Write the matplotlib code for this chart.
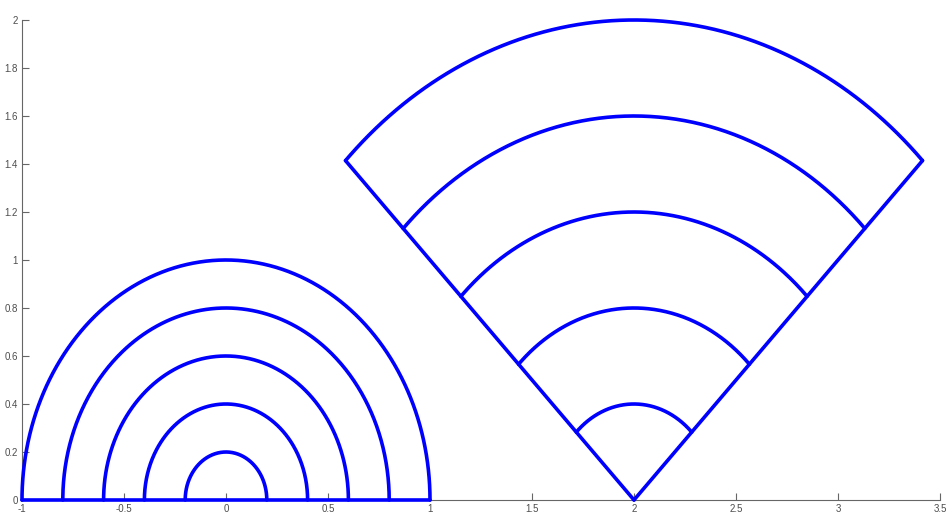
import numpy as np
import matplotlib
matplotlib.use("Agg")
import matplotlib.pyplot as plt

# Data
semi_radii = [0.2, 0.4, 0.6, 0.8, 1.0]
semi_center = (0.0, 0.0)
sector_radii = [0.4, 0.8, 1.2, 1.6, 2.0]
sector_center = (2.0, 0.0)
sector_angles_deg = (45, 135)
xticks = [-1, -0.5, 0, 0.5, 1, 1.5, 2, 2.5, 3, 3.5]
xticklabels = ["-1", "-0.5", "0", "0.5", "1", "1.5", "2", "2.5", "3", "3.5"]
yticks = [0, 0.2, 0.4, 0.6, 0.8, 1, 1.2, 1.4, 1.6, 1.8, 2]
yticklabels = ["0", "0.2", "0.4", "0.6", "0.8", "1", "1.2", "1.4", "1.6", "1.8", "2"]

color = (0, 0, 1)
lw = 2.6

plt.rcParams['font.family'] = ['Liberation Sans', 'DejaVu Sans']
fig = plt.figure(figsize=(9.48, 5.24), dpi=100)
ax = fig.add_axes([22/948, 24/524, 918/948, 480/524])

# semicircles
t = np.linspace(0, np.pi, 400)
cx, cy = semi_center
for r in semi_radii:
    ax.plot(cx + r*np.cos(t), cy + r*np.sin(t), color=color, lw=lw, solid_capstyle='round', zorder=3)
rmax = max(semi_radii)
ax.plot([cx - rmax, cx + rmax], [cy, cy], color=color, lw=lw, solid_capstyle='round', zorder=3)

# sector
a0, a1 = np.deg2rad(sector_angles_deg[0]), np.deg2rad(sector_angles_deg[1])
ts = np.linspace(a0, a1, 300)
sx, sy = sector_center
for r in sector_radii:
    ax.plot(sx + r*np.cos(ts), sy + r*np.sin(ts), color=color, lw=lw, solid_capstyle='round', zorder=3)
R = max(sector_radii)
for a in (a0, a1):
    ax.plot([sx, sx + R*np.cos(a)], [sy, sy + R*np.sin(a)], color=color, lw=lw,
            solid_capstyle='round', solid_joinstyle='round', zorder=3)

ax.set_xlim(-1, 3.5)
ax.set_ylim(0, 2)
ax.set_xticks(xticks)
ax.set_xticklabels(xticklabels)
ax.set_yticks(yticks)
ax.set_yticklabels(yticklabels)
for s in ("top", "right"):
    ax.spines[s].set_visible(False)
gray = (0.4, 0.4, 0.4)
for s in ("left", "bottom"):
    ax.spines[s].set_color(gray)
    ax.spines[s].set_linewidth(0.8)
    ax.spines[s].set_zorder(1)
ax.tick_params(direction='in', length=5, width=0.8, colors=gray, labelsize=7, pad=3)
for l in ax.get_xticklabels() + ax.get_yticklabels():
    l.set_color((0.3, 0.3, 0.3))
for line in ax.lines:
    line.set_clip_on(False)

fig.savefig("out.png", dpi=100)
